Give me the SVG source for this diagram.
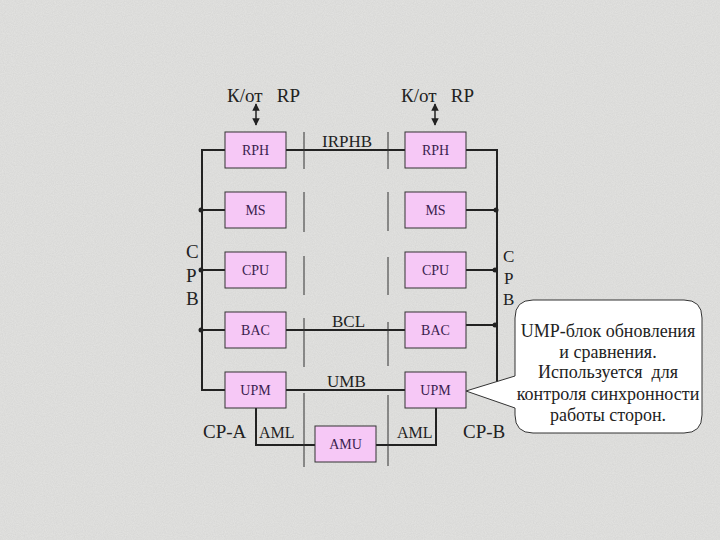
<svg xmlns="http://www.w3.org/2000/svg" width="720" height="540" viewBox="0 0 720 540">
<defs>
<marker id="ah" viewBox="0 0 10 10" refX="9" refY="5" markerWidth="5" markerHeight="5" orient="auto-start-reverse"><path d="M0,0 L10,5 L0,10 z" fill="#222"/></marker>
<filter id="noise" x="0" y="0" width="100%" height="100%"><feTurbulence type="fractalNoise" baseFrequency="0.9" numOctaves="2" seed="3" result="n"/><feColorMatrix in="n" type="matrix" values="0 0 0 0 0.4  0 0 0 0 0.4  0 0 0 0 0.4  0 0 0 0.25 0"/></filter>
<style>
text{font-family:'Liberation Serif','Times New Roman','DejaVu Serif',serif}
.box{fill:#f6c8f6;stroke:#333;stroke-width:1}
.bt{font-size:14px;fill:#3b1d4f;text-anchor:middle}
.lbl{fill:#222}
.w{stroke:#222;stroke-width:2;fill:none}
.div{stroke:#333;stroke-width:1;fill:none}
.dot{fill:#222}
.ct{font-size:18px;fill:#222;text-anchor:middle}
</style>
</defs>
<rect x="0" y="0" width="720" height="540" fill="#e4e4e2"/>
<rect x="0" y="0" width="720" height="540" filter="url(#noise)"/>

<g id="connectors">
<path class="w" d="M225,150 H202 V390 H225"/>
<path class="w" d="M202,210 H225 M202,270 H225 M202,330 H225"/>
<path class="w" d="M466,150 H497 V392"/>
<path class="w" d="M466,210 H497 M466,270 H497 M466,325 H497"/>
<path class="w" d="M286,150 H405 M286,330 H405 M286,390 H405"/>
<path class="w" d="M256,408 V445 H315 M436,408 V445 H376"/>
<path class="div" d="M304,132 V169 M304,192 V232 M304,256 V295 M304,318 V367 M304,393 V467"/>
<path class="div" d="M388,132 V169 M388,192 V231 M388,257 V295 M388,322 V366 M388,395 V466"/>
<circle class="dot" cx="201" cy="210" r="2.5"/>
<circle class="dot" cx="201" cy="270" r="2.5"/>
<circle class="dot" cx="201" cy="330" r="2.5"/>
<circle class="dot" cx="496" cy="210" r="2.5"/>
<circle class="dot" cx="495" cy="270" r="2.5"/>
<circle class="dot" cx="495" cy="325" r="2.5"/>
<line x1="256" y1="104" x2="256" y2="125" stroke="#222" stroke-width="1.5" marker-start="url(#ah)" marker-end="url(#ah)"/>
<line x1="435" y1="104" x2="435" y2="125" stroke="#222" stroke-width="1.5" marker-start="url(#ah)" marker-end="url(#ah)"/>
</g>

<g id="rph-a"><rect class="box" x="225" y="132" width="61" height="36"/><text class="bt" x="255.5" y="155">RPH</text></g>
<g id="ms-a"><rect class="box" x="225" y="192" width="61" height="36"/><text class="bt" x="255.5" y="215">MS</text></g>
<g id="cpu-a"><rect class="box" x="225" y="252" width="61" height="36"/><text class="bt" x="255.5" y="275">CPU</text></g>
<g id="bac-a"><rect class="box" x="225" y="312" width="61" height="36"/><text class="bt" x="255.5" y="335">BAC</text></g>
<g id="upm-a"><rect class="box" x="225" y="372" width="61" height="36"/><text class="bt" x="255.5" y="395">UPM</text></g>

<g id="rph-b"><rect class="box" x="405" y="132" width="61" height="36"/><text class="bt" x="435.5" y="155">RPH</text></g>
<g id="ms-b"><rect class="box" x="405" y="192" width="61" height="36"/><text class="bt" x="435.5" y="215">MS</text></g>
<g id="cpu-b"><rect class="box" x="405" y="252" width="61" height="36"/><text class="bt" x="435.5" y="275">CPU</text></g>
<g id="bac-b"><rect class="box" x="405" y="312" width="61" height="36"/><text class="bt" x="435.5" y="335">BAC</text></g>
<g id="upm-b"><rect class="box" x="405" y="372" width="61" height="36"/><text class="bt" x="435.5" y="395">UPM</text></g>

<g id="amu"><rect class="box" x="315" y="426" width="61" height="36"/><text class="bt" x="345.5" y="449">AMU</text></g>

<g id="labels">
<text class="lbl" x="227" y="102" font-size="19" style="white-space:pre">К/от   RP</text>
<text class="lbl" x="401" y="102" font-size="19" style="white-space:pre">К/от   RP</text>
<text class="lbl" x="322" y="147" font-size="17">IRPHB</text>
<text class="lbl" x="332" y="327" font-size="17">BCL</text>
<text class="lbl" x="327" y="387" font-size="17">UMB</text>
<text class="lbl" x="186" y="258" font-size="19">C</text>
<text class="lbl" x="186" y="282" font-size="19">P</text>
<text class="lbl" x="186" y="305" font-size="19">B</text>
<text class="lbl" x="503" y="262" font-size="17">C</text>
<text class="lbl" x="504" y="284" font-size="17">P</text>
<text class="lbl" x="503" y="305" font-size="17">B</text>
<text class="lbl" x="203" y="438" font-size="19">CP-A</text>
<text class="lbl" x="259" y="438" font-size="16">AML</text>
<text class="lbl" x="397" y="438" font-size="16">AML</text>
<text class="lbl" x="463" y="438" font-size="19">CP-B</text>
</g>

<g id="callout">
<path d="M533,300 H684 Q702,300 702,318 V415 Q702,433 684,433 H533 Q515,433 515,415 V408 L466,391 L515,376 V318 Q515,300 533,300 Z" fill="#fff" stroke="#333" stroke-width="1"/>
<text class="ct" x="608" y="337">UMP-блок обновления</text>
<text class="ct" x="608" y="358">и сравнения.</text>
<text class="ct" x="608" y="378" style="white-space:pre">Используется  для</text>
<text class="ct" x="608" y="400">контроля синхронности</text>
<text class="ct" x="608" y="421">работы сторон.</text>
</g>
</svg>
